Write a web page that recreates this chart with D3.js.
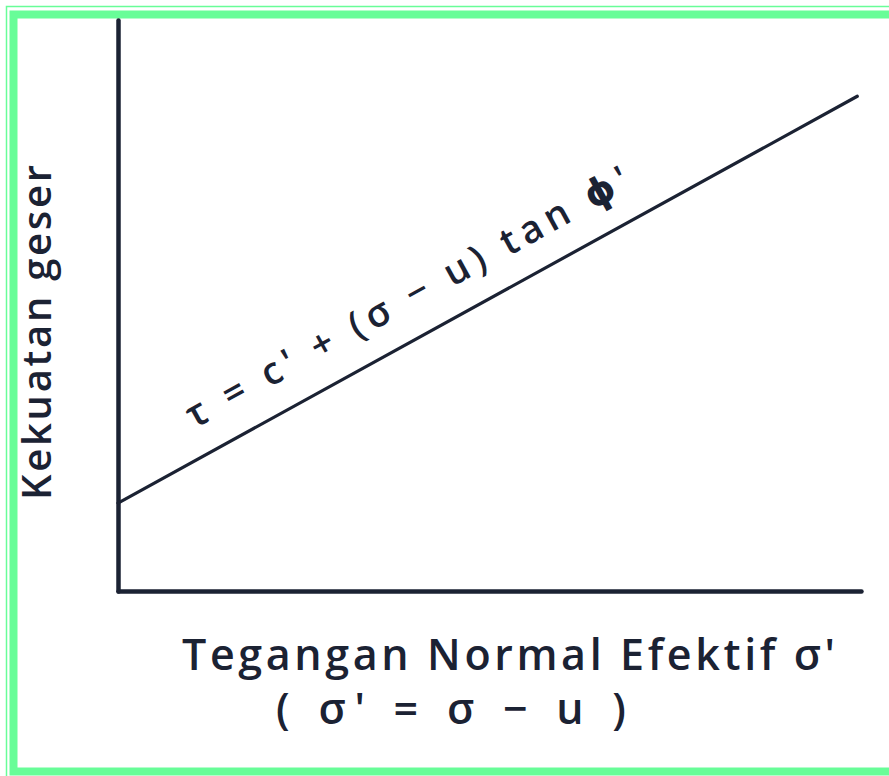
<!DOCTYPE html>
<html>
<head>
<meta charset="utf-8">
<script src="https://cdn.jsdelivr.net/npm/d3@7"></script>
<style>
  body { margin: 0; background: #fff; }
  svg { display: block; }
</style>
</head>
<body>
<div id="chart-area"></div>
<script>
// effective normal stress (arbitrary units) and shear strength on the failure line
var sigmaEff = [0, 9.95];
var cohesion = 1.54;
var tanPhi = 0.716;
var tau = sigmaEff.map(d => cohesion + d * tanPhi);

var yLabel = "Kekuatan geser";
var xLabel = "Tegangan Normal Efektif \u03C3'";
var xLabel2 = "( \u03C3' = \u03C3 \u2212 u )";
var lineLabel = "\u03C4 = c' + (\u03C3 \u2212 u) tan \u03D5'";

var width = 889, height = 776;
var ink = "#1b2233";
var green = "#68fd98";
var font = "Open Sans, DejaVu Sans, sans-serif";

var svg = d3.select("#chart-area")
  .append("svg")
  .attr("width", width)
  .attr("height", height);

svg.append("rect")
  .attr("width", width)
  .attr("height", height)
  .attr("fill", "#fff");

// frame
svg.append("rect")
  .attr("x", 6.5).attr("y", 6.5)
  .attr("width", 900).attr("height", 800)
  .attr("fill", "none")
  .attr("stroke", green)
  .attr("stroke-width", 1.5);
svg.append("rect")
  .attr("x", 13.5).attr("y", 14.5)
  .attr("width", 890).attr("height", 757)
  .attr("fill", "none")
  .attr("stroke", green)
  .attr("stroke-width", 8);

var x = d3.scaleLinear()
  .domain([0, 10])
  .range([118, 861]);

var y = d3.scaleLinear()
  .domain([0, 10])
  .range([591, 20]);

var xAxisCall = d3.axisBottom(x).tickValues([]).tickSizeOuter(0);
svg.append("g")
  .attr("class", "x axis")
  .attr("transform", "translate(0," + y(0) + ")")
  .call(xAxisCall)
  .select(".domain")
    .attr("stroke", ink)
    .attr("stroke-width", 4.5)
    .attr("stroke-linecap", "round");

var yAxisCall = d3.axisLeft(y).tickValues([]).tickSizeOuter(0);
svg.append("g")
  .attr("class", "y axis")
  .attr("transform", "translate(" + x(0) + ",0)")
  .call(yAxisCall)
  .select(".domain")
    .attr("stroke", ink)
    .attr("stroke-width", 4.5)
    .attr("stroke-linecap", "round");

var pts = sigmaEff.map((d, i) => [x(d), y(tau[i])]);
svg.append("path")
  .attr("d", d3.line()(pts))
  .attr("fill", "none")
  .attr("stroke", ink)
  .attr("stroke-width", 3.2)
  .attr("stroke-linecap", "round");

// label along the failure line
var ang = Math.atan2(pts[1][1] - pts[0][1], pts[1][0] - pts[0][0]);
var s0 = x.invert(208);
var p0 = [x(s0), y(cohesion + s0 * tanPhi)];
var off = 28;
var tx = p0[0] + off * Math.sin(ang);
var ty = p0[1] - off * Math.cos(ang);
svg.append("text")
  .attr("transform", "translate(" + tx + "," + ty + ") rotate(" + (ang * 180 / Math.PI) + ")")
  .attr("font-family", font)
  .attr("font-weight", 600)
  .attr("font-size", "38px")
  .attr("fill", ink)
  .attr("textLength", 500)
  .attr("lengthAdjust", "spacing")
  .text(lineLabel);

svg.append("text")
  .attr("transform", "translate(51,500) rotate(-90)")
  .attr("font-family", font)
  .attr("font-weight", 600)
  .attr("font-size", "40px")
  .attr("fill", ink)
  .attr("textLength", 335)
  .attr("lengthAdjust", "spacing")
  .text(yLabel);

svg.append("text")
  .attr("x", 182)
  .attr("y", 670)
  .attr("font-family", font)
  .attr("font-weight", 600)
  .attr("font-size", "43px")
  .attr("fill", ink)
  .attr("textLength", 653)
  .attr("lengthAdjust", "spacing")
  .text(xLabel);

svg.append("text")
  .attr("x", 276)
  .attr("y", 724)
  .attr("font-family", font)
  .attr("font-weight", 600)
  .attr("font-size", "43px")
  .attr("fill", ink)
  .attr("textLength", 350)
  .attr("lengthAdjust", "spacing")
  .text(xLabel2);
</script>
</body>
</html>
